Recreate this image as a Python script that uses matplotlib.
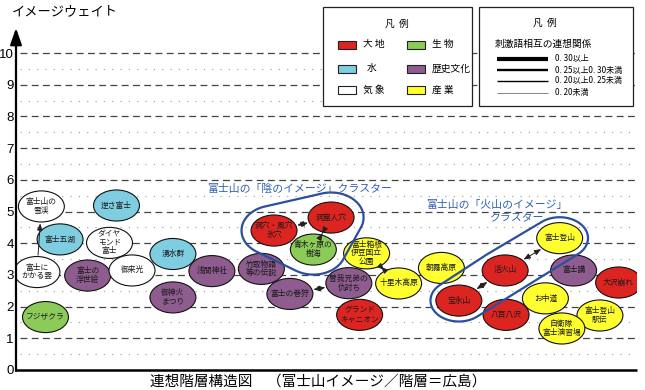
import numpy as np
import matplotlib.pyplot as plt
from matplotlib import font_manager
from matplotlib.patches import Ellipse, Rectangle, Polygon

plt.rcParams['font.family'] = ['Noto Sans CJK JP', 'DejaVu Sans']

# 刺激語
words = ['富士山の\n雪渓', '逆さ富士', '富士五湖', 'ダイヤ\nモンド\n富士', '富士に\nかかる雲',
         '富士の\n浮世絵', '御来光', '湧水群', '浅間神社', '御神火\nまつり', 'フジザクラ',
         '洞穴・風穴\n氷穴', '洞窟人穴', '青木ヶ原の\n樹海', '竹取物語\n等の伝説', '富士の巻狩',
         '曽我兄弟の\n仇討ち', '富士箱根\n伊豆国立\n公園', '十里木高原', 'グランド\nキャニオン',
         '朝霧高原', '富士登山', '活火山', '富士講', '大沢崩れ', '宝永山', 'お中道', '八百八沢',
         '富士登山\n駅伝', '自衛隊\n富士演習場']
kinds = ['気象', '水', '水', '気象', '気象',
         '歴史文化', '気象', '水', '歴史文化', '歴史文化', '生物',
         '大地', '大地', '生物', '歴史文化', '歴史文化',
         '歴史文化', '産業', '産業', '大地',
         '産業', '産業', '大地', '歴史文化', '大地', '大地', '産業', '大地',
         '産業', '産業']
# 階層（横位置）とイメージウェイト
layer = [0.80, 3.17, 1.39, 2.95, 0.66,
         2.26, 3.66, 4.95, 6.18, 4.95, 0.93,
         8.14, 9.94, 9.38, 7.74, 8.64,
         10.50, 11.06, 12.07, 10.84,
         13.42, 17.15, 15.43, 17.59, 19.01, 13.97, 16.70, 15.46,
         18.42, 17.22]
weight = [5.16, 5.19, 4.12, 4.01, 3.09,
          2.98, 3.14, 3.66, 3.12, 2.29, 1.67,
          4.40, 4.81, 3.80, 3.19, 2.40,
          2.74, 3.68, 2.73, 1.74,
          3.22, 4.16, 3.14, 3.14, 2.76, 2.19, 2.26, 1.74,
          1.72, 1.31]

# 連想関係（矢印）
links = [('富士にかかる雲', '富士山の雪渓'), ('洞穴・風穴氷穴', '洞窟人穴'), ('青木ヶ原の樹海', '洞窟人穴'),
         ('富士の巻狩', '曽我兄弟の仇討ち'), ('富士箱根伊豆国立公園', '十里木高原'),
         ('宝永山', '活火山'), ('活火山', '富士登山')]

clusters = [['洞穴・風穴氷穴', '洞窟人穴', '青木ヶ原の樹海'], ['宝永山', '活火山', '富士登山']]

legend_kinds = ['大地', '水', '気象', '生物', '歴史文化', '産業']
legend_names = ['大 地', '水', '気 象', '生 物', '歴史文化', '産 業']
link_levels = ['0. 30以上', '0. 25以上0. 30未満', '0. 20以上0. 25未満', '0. 20未満']

colors = {'大地': '#dc2420', '水': '#7fcde0', '気象': '#ffffff',
          '生物': '#8dcb58', '歴史文化': '#8e5c8e', '産業': '#ffff30'}

W, H = 1.45, 0.98  # 楕円の大きさ
pos = {w.replace('\n', ''): (x, y) for w, x, y in zip(words, layer, weight)}

# 目盛り数字は細めの書体があればそれを使う
names = {f.name for f in font_manager.fontManager.ttflist}
num_font = 'Liberation Sans Narrow' if 'Liberation Sans Narrow' in names else 'Liberation Sans'
num_size = 10.5 if num_font == 'Liberation Sans Narrow' else 9.5

fig = plt.figure(figsize=(6.45, 3.9), dpi=100)
ax = fig.add_axes([16/645, 20/390, 621/645, 342/390])
ax.set_xlim(0, 19.59)
ax.set_ylim(0, 10.79)
for s in ax.spines.values():
    s.set_visible(False)
ax.set_xticks([])
ax.set_yticks(range(11))
ax.set_yticklabels([str(i) for i in range(11)], family=num_font, fontsize=num_size)
ax.tick_params(axis='y', length=0, pad=1.5)

# 目盛り線
for i in range(1, 11):
    ax.plot([0.12, 19.59], [i, i], color='#444444', lw=0.9, ls=(0, (5.5, 3.5)), zorder=1)
for i in range(10):
    ax.plot([0.12, 19.59], [i + 0.5, i + 0.5], color='#9a9a9a', lw=0.8, ls=(0, (1, 6.5)), zorder=1)

# 軸
ax.plot([0, 19.59], [0, 0], color='k', lw=1.8, clip_on=False, solid_capstyle='butt', zorder=5)
ax.annotate('', xy=(0, 10.79), xytext=(0, -0.03),
            arrowprops=dict(arrowstyle='-|>,head_length=1.0,head_width=0.35', mutation_scale=10,
                            lw=1.6, color='k', shrinkA=0, shrinkB=0), annotation_clip=False, zorder=5)

# 楕円
for w, k, x, y in zip(words, kinds, layer, weight):
    ax.add_patch(Ellipse((x, y), W, H, facecolor=colors[k], edgecolor='#111111', lw=0.8, zorder=3))
    ax.text(x, y, w, ha='center', va='center', fontsize=5.6, color='#1a1a1a',
            linespacing=1.05, zorder=4)


def edge(c, d):
    t = 1 / np.sqrt((d[0] / (W / 2)) ** 2 + (d[1] / (H / 2)) ** 2)
    return np.array(c) + d * t


for a, b in links:
    ca, cb = np.array(pos[a]), np.array(pos[b])
    d = (cb - ca) / np.linalg.norm(cb - ca)
    p0, p1 = edge(ca, d), edge(cb, -d)
    style = '-|>' if a == '富士にかかる雲' else '<|-|>'
    ax.annotate('', xy=p1, xytext=p0,
                arrowprops=dict(arrowstyle=style + ',head_length=0.5,head_width=0.2', mutation_scale=8,
                                lw=0.7, color='#222222', shrinkA=1, shrinkB=1), zorder=4)


def hull(points):
    pts = sorted(map(tuple, points))

    def cross(o, a, b):
        return (a[0] - o[0]) * (b[1] - o[1]) - (a[1] - o[1]) * (b[0] - o[0])
    lower, upper = [], []
    for p in pts:
        while len(lower) >= 2 and cross(lower[-2], lower[-1], p) <= 0:
            lower.pop()
        lower.append(p)
    for p in reversed(pts):
        while len(upper) >= 2 and cross(upper[-2], upper[-1], p) <= 0:
            upper.pop()
        upper.append(p)
    return lower[:-1] + upper[:-1]


th = np.linspace(0, 2 * np.pi, 120, endpoint=False)
for members, m in zip(clusters, [0.3, 0.17]):
    pts = []
    for name in members:
        cx, cy = pos[name]
        pts += list(zip(cx + (W / 2 + m) * np.cos(th), cy + (H / 2 + m) * np.sin(th)))
    ax.add_patch(Polygon(hull(pts), closed=True, fill=False, edgecolor='#2b4fa0', lw=1.6, zorder=4))

blue = '#2f5fb0'
ax.text(8.96, 5.71, '富士山の「陰のイメージ」クラスター', color=blue, fontsize=7.8,
        ha='center', va='center', zorder=4)
ax.text(15.17, 5.21, '富士山の「火山のイメージ」', color=blue, fontsize=7.8,
        ha='center', va='center', zorder=4)
ax.text(15.80, 4.80, 'クラスター', color=blue, fontsize=7.8, ha='center', va='center', zorder=4)

# 凡例（ピクセル座標のオーバーレイ）
ov = fig.add_axes([0, 0, 1, 1])
ov.set_xlim(0, 645)
ov.set_ylim(390, 0)
ov.axis('off')
ov.add_patch(Rectangle((323, 7), 149, 99, facecolor='white', edgecolor='#222222', lw=0.9))
ov.add_patch(Rectangle((479, 7), 154, 99, facecolor='white', edgecolor='#222222', lw=0.9))
ov.text(397, 24, '凡  例', ha='center', va='center', fontsize=7)
ov.text(545, 23, '凡  例', ha='center', va='center', fontsize=7)
rows = [44.5, 68.5, 90]
for i, (k, n) in enumerate(zip(legend_kinds, legend_names)):
    col, row = divmod(i, 3)
    sx = 338 if col == 0 else 407
    ov.add_patch(Rectangle((sx, rows[row] - 4), 18, 8, facecolor=colors[k], edgecolor='#222222', lw=0.8))
    if n == '水':
        ov.text(372, rows[row], n, ha='center', va='center', fontsize=7)
    else:
        ov.text(sx + 25, rows[row], n, ha='left', va='center', fontsize=7)

ov.text(495, 44, '刺激語相互の連想関係', ha='left', va='center', fontsize=7)
for ly, lw, lc, lab in zip([59, 70, 81, 93], [3.0, 1.7, 1.0, 0.5],
                           ['k', 'k', 'k', '#555555'], link_levels):
    ov.plot([497, 548], [ly, ly], color=lc, lw=lw, solid_capstyle='butt')
    ov.text(555, ly, lab, ha='left', va='center', fontsize=5.8)

fig.text(12/645, 1 - 12/390, 'イメージウェイト', ha='left', va='center', fontsize=9.5)
fig.text(318/645, 1 - 382/390, '連想階層構造図　（富士山イメージ／階層＝広島）',
         ha='center', va='center', fontsize=10.5)

fig.savefig('out.png', dpi=100)
